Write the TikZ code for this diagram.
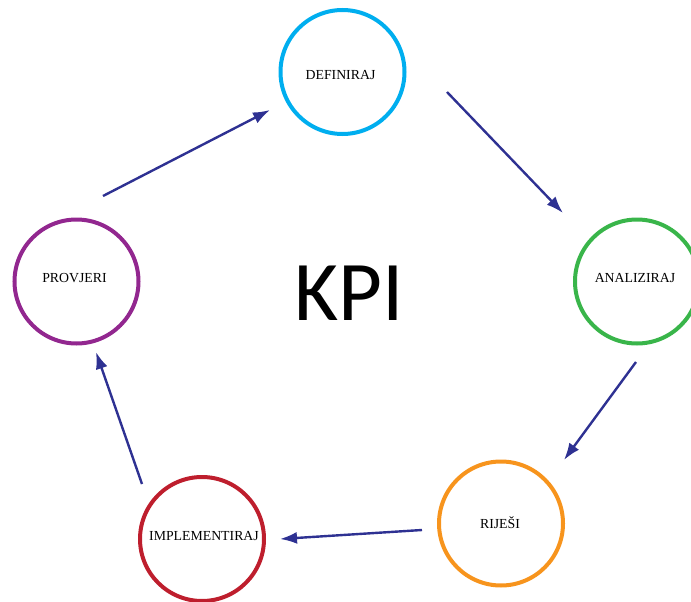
\documentclass[tikz,border=0pt]{standalone}
\usepackage{fontspec}
\setmainfont{Liberation Serif}
\newfontfamily\kpifont{Carlito}
\usetikzlibrary{arrows.meta}
\definecolor{cDef}{HTML}{00AEEF}
\definecolor{cAna}{HTML}{39B54A}
\definecolor{cRij}{HTML}{F7941D}
\definecolor{cImp}{HTML}{BE1E2D}
\definecolor{cPro}{HTML}{92278F}
\definecolor{cArr}{HTML}{2E3192}
\tikzset{
  stage/.style={circle, draw=#1, line width=4pt, minimum size=124pt, inner sep=0pt},
  stagetext/.style={inner sep=0pt, font=\fontsize{13.8}{16}\selectfont},
  flow/.style={draw=cArr, line width=2.4pt, -{Latex[length=17pt,width=12pt]}},
}
\begin{document}
\begin{tikzpicture}[x=1pt,y=-1pt]
\useasboundingbox (0,0) rectangle (691,602);
\begin{scope}
\clip (0,0) rectangle (691,602);
\node[stage=cDef] (def) at (342.5,72) {};
\node[stage=cAna] (ana) at (637,281.5) {};
\node[stage=cRij] (rij) at (501,523.5) {};
\node[stage=cImp] (imp) at (202,539) {};
\node[stage=cPro] (pro) at (76.5,281.5) {};
\end{scope}
\node[stagetext] (tdef) at (340.5,75) {DEFINIRAJ};
\node[stagetext] (tana) at (635,278) {ANALIZIRAJ};
\node[stagetext] (trij) at (500,522.5) {RIJEŠI};
\node[stagetext] (timp) at (204,536) {IMPLEMENTIRAJ};
\node[stagetext] (tpro) at (74.5,278) {PROVJERI};
\node[font=\kpifont\fontsize{85}{90}\selectfont, anchor=base, inner sep=0pt] (kpi) at (349,320) {KPI};
\coordinate (p1) at (103,196);  \coordinate (d1) at (270,110);
\coordinate (d2) at (447,92);   \coordinate (a2) at (563,213);
\coordinate (a3) at (636,362);  \coordinate (r3) at (564,460);
\coordinate (r4) at (422,530);  \coordinate (i4) at (280,539);
\coordinate (i5) at (142,484);  \coordinate (p5) at (96,352);
\draw[flow] (p1) -- (d1);
\draw[flow] (d2) -- (a2);
\draw[flow] (a3) -- (r3);
\draw[flow] (r4) -- (i4);
\draw[flow] (i5) -- (p5);
\end{tikzpicture}
\end{document}
